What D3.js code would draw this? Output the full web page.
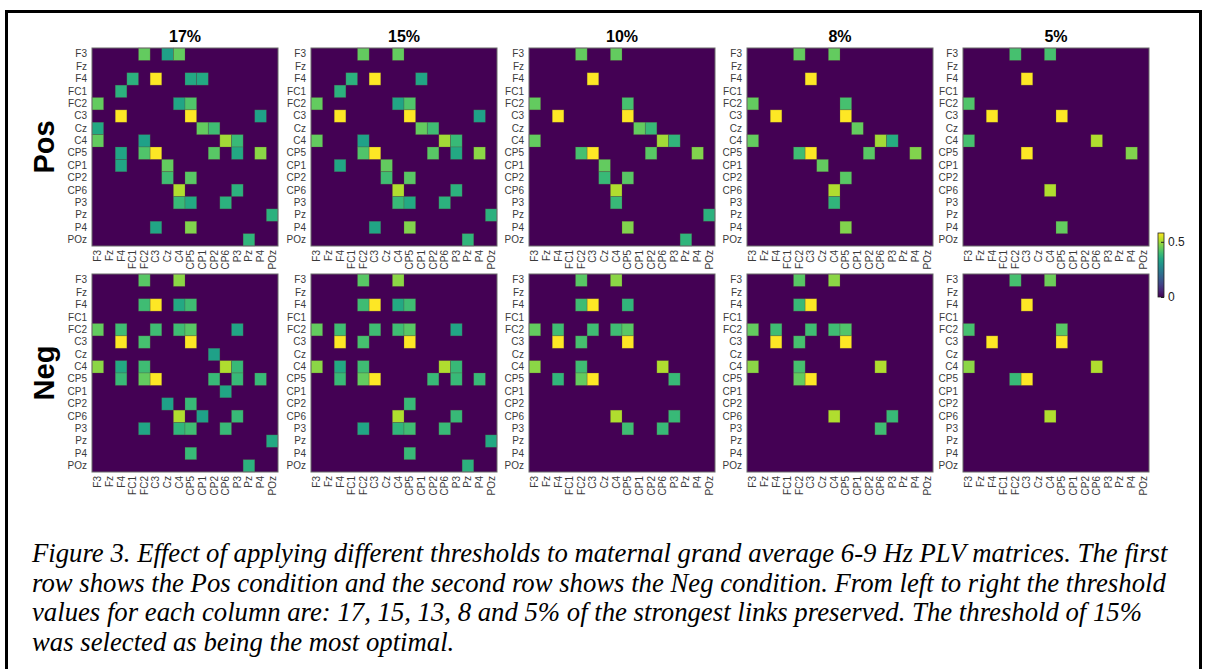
<!DOCTYPE html>
<html>
<head>
<meta charset="utf-8">
<script src="https://cdn.jsdelivr.net/npm/d3@7"></script>
<style>
  body { margin: 0; background: #fff; }
  svg { display: block; }
</style>
</head>
<body>
<div id="fig"></div>
<script>
// channel order used on both axes of every PLV matrix
const channels = ["F3","Fz","F4","FC1","FC2","C3","Cz","C4","CP5","CP1","CP2","CP6","P3","Pz","P4","POz"];
const thresholds = ["17%","15%","10%","8%","5%"];
const conditions = ["Pos","Neg"];

// non-zero links [row, column, PLV]
const pos17 = [
  ["F3","FC2",0.44],["F3","Cz",0.33],["F3","C4",0.44],
  ["F4","FC1",0.37],["F4","C3",0.58],["F4","CP5",0.35],["F4","CP1",0.35],
  ["FC1","F4",0.37],
  ["FC2","F3",0.44],["FC2","C4",0.34],["FC2","CP5",0.42],
  ["C3","F4",0.58],["C3","CP5",0.58],["C3","P4",0.33],
  ["Cz","F3",0.35],["Cz","CP1",0.44],["Cz","CP2",0.40],
  ["C4","F3",0.44],["C4","FC2",0.33],["C4","CP6",0.50],["C4","P3",0.39],
  ["CP5","F4",0.34],["CP5","FC2",0.42],["CP5","C3",0.58],["CP5","CP2",0.43],["CP5","P3",0.35],["CP5","P4",0.48],
  ["CP1","F4",0.34],["CP1","Cz",0.44],
  ["CP2","Cz",0.40],["CP2","CP5",0.43],
  ["CP6","C4",0.51],["CP6","P3",0.37],
  ["P3","C4",0.39],["P3","CP5",0.35],["P3","CP6",0.37],
  ["Pz","POz",0.37],
  ["P4","C3",0.34],["P4","CP5",0.47],
  ["POz","Pz",0.38]
];
const pos15 = [
  ["F3","FC2",0.44],["F3","C4",0.44],
  ["F4","FC1",0.37],["F4","C3",0.58],["F4","CP1",0.34],
  ["FC1","F4",0.37],
  ["FC2","F3",0.44],["FC2","C4",0.34],["FC2","CP5",0.42],
  ["C3","F4",0.58],["C3","CP5",0.58],["C3","P4",0.33],
  ["Cz","CP1",0.44],["Cz","CP2",0.40],
  ["C4","F3",0.44],["C4","FC2",0.33],["C4","CP6",0.50],["C4","P3",0.39],
  ["CP5","FC2",0.42],["CP5","C3",0.58],["CP5","CP2",0.43],["CP5","P3",0.35],["CP5","P4",0.48],
  ["CP1","F4",0.34],["CP1","Cz",0.44],
  ["CP2","Cz",0.40],["CP2","CP5",0.43],
  ["CP6","C4",0.51],["CP6","P3",0.37],
  ["P3","C4",0.39],["P3","CP5",0.35],["P3","CP6",0.37],
  ["Pz","POz",0.37],
  ["P4","C3",0.34],["P4","CP5",0.47],
  ["POz","Pz",0.38]
];
const pos10 = [
  ["F3","FC2",0.44],["F3","C4",0.44],
  ["F4","C3",0.58],
  ["FC2","F3",0.44],["FC2","CP5",0.41],
  ["C3","F4",0.58],["C3","CP5",0.58],
  ["Cz","CP1",0.44],["Cz","CP2",0.39],
  ["C4","F3",0.44],["C4","CP6",0.50],["C4","P3",0.38],
  ["CP5","FC2",0.41],["CP5","C3",0.58],["CP5","CP2",0.43],["CP5","P4",0.47],
  ["CP1","Cz",0.44],
  ["CP2","Cz",0.39],["CP2","CP5",0.43],
  ["CP6","C4",0.51],
  ["P3","C4",0.39],
  ["Pz","POz",0.37],
  ["P4","CP5",0.47],
  ["POz","Pz",0.38]
];
const pos8 = [
  ["F3","FC2",0.44],["F3","C4",0.44],
  ["F4","C3",0.58],
  ["FC2","F3",0.44],["FC2","CP5",0.41],
  ["C3","F4",0.58],["C3","CP5",0.58],
  ["Cz","CP1",0.44],
  ["C4","F3",0.44],["C4","CP6",0.50],["C4","P3",0.36],
  ["CP5","FC2",0.40],["CP5","C3",0.58],["CP5","CP2",0.43],["CP5","P4",0.47],
  ["CP1","Cz",0.44],
  ["CP2","CP5",0.43],
  ["CP6","C4",0.51],
  ["P3","C4",0.38],
  ["P4","CP5",0.47]
];
const pos5 = [
  ["F3","FC2",0.41],["F3","C4",0.41],
  ["F4","C3",0.58],
  ["FC2","F3",0.42],
  ["C3","F4",0.58],["C3","CP5",0.58],
  ["C4","F3",0.41],["C4","CP6",0.51],
  ["CP5","C3",0.58],["CP5","P4",0.47],
  ["CP6","C4",0.51],
  ["P4","CP5",0.44]
];
const neg17 = [
  ["F3","FC2",0.43],["F3","C4",0.48],
  ["F4","FC2",0.40],["F4","C3",0.58],["F4","C4",0.35],["F4","CP5",0.40],
  ["FC2","F3",0.44],["FC2","F4",0.40],["FC2","C3",0.40],["FC2","C4",0.40],["FC2","CP5",0.43],["FC2","P3",0.34],
  ["C3","F4",0.58],["C3","FC2",0.41],["C3","CP5",0.58],
  ["Cz","CP2",0.33],
  ["C4","F3",0.48],["C4","F4",0.35],["C4","FC2",0.40],["C4","CP6",0.51],["C4","P3",0.39],
  ["CP5","F4",0.39],["CP5","FC2",0.44],["CP5","C3",0.58],["CP5","CP2",0.39],["CP5","P3",0.39],["CP5","P4",0.39],
  ["CP1","CP6",0.34],
  ["CP2","Cz",0.33],["CP2","CP5",0.39],
  ["CP6","C4",0.51],["CP6","CP1",0.33],["CP6","P3",0.39],
  ["P3","FC2",0.34],["P3","C4",0.38],["P3","CP5",0.40],["P3","CP6",0.39],
  ["Pz","POz",0.35],
  ["P4","CP5",0.39],
  ["POz","Pz",0.37]
];
const neg15 = [
  ["F3","FC2",0.43],["F3","C4",0.48],
  ["F4","FC2",0.40],["F4","C3",0.58],["F4","C4",0.35],["F4","CP5",0.40],
  ["FC2","F3",0.44],["FC2","F4",0.40],["FC2","C3",0.40],["FC2","C4",0.40],["FC2","CP5",0.43],["FC2","P3",0.34],
  ["C3","F4",0.58],["C3","FC2",0.41],["C3","CP5",0.58],
  ["C4","F3",0.48],["C4","F4",0.35],["C4","FC2",0.40],["C4","CP6",0.51],["C4","P3",0.39],
  ["CP5","F4",0.39],["CP5","FC2",0.44],["CP5","C3",0.58],["CP5","CP2",0.39],["CP5","P3",0.39],["CP5","P4",0.39],
  ["CP2","CP5",0.39],
  ["CP6","C4",0.51],["CP6","P3",0.39],
  ["P3","FC2",0.34],["P3","C4",0.38],["P3","CP5",0.40],["P3","CP6",0.39],
  ["Pz","POz",0.35],
  ["P4","CP5",0.39],
  ["POz","Pz",0.37]
];
const neg10 = [
  ["F3","FC2",0.43],["F3","C4",0.48],
  ["F4","FC2",0.40],["F4","C3",0.58],["F4","CP5",0.38],
  ["FC2","F3",0.44],["FC2","F4",0.40],["FC2","C3",0.40],["FC2","C4",0.40],["FC2","CP5",0.43],
  ["C3","F4",0.58],["C3","FC2",0.41],["C3","CP5",0.58],
  ["C4","F3",0.48],["C4","FC2",0.40],["C4","CP6",0.51],
  ["CP5","F4",0.38],["CP5","FC2",0.44],["CP5","C3",0.58],["CP5","P3",0.39],
  ["CP6","C4",0.51],["CP6","P3",0.39],
  ["P3","CP5",0.40],["P3","CP6",0.39]
];
const neg8 = [
  ["F3","FC2",0.43],["F3","C4",0.48],
  ["F4","FC2",0.39],["F4","C3",0.58],
  ["FC2","F3",0.44],["FC2","F4",0.40],["FC2","C3",0.40],["FC2","C4",0.40],["FC2","CP5",0.42],
  ["C3","F4",0.58],["C3","FC2",0.41],["C3","CP5",0.58],
  ["C4","F3",0.48],["C4","FC2",0.41],["C4","CP6",0.51],
  ["CP5","FC2",0.44],["CP5","C3",0.58],
  ["CP6","C4",0.51],["CP6","P3",0.39],
  ["P3","CP6",0.40]
];
const neg5 = [
  ["F3","FC2",0.41],["F3","C4",0.45],
  ["F4","C3",0.58],
  ["FC2","F3",0.41],["FC2","CP5",0.43],
  ["C3","F4",0.58],["C3","CP5",0.58],
  ["C4","F3",0.48],["C4","CP6",0.51],
  ["CP5","FC2",0.39],["CP5","C3",0.58],
  ["CP6","C4",0.51]
];
const matrices = [[pos17,pos15,pos10,pos8,pos5],[neg17,neg15,neg10,neg8,neg5]];

const colorTicks = [0, 0.5];
const captionLines = [
  "Figure 3. Effect of applying different thresholds to maternal grand average 6-9 Hz PLV matrices. The first",
  "row shows the Pos condition and the second row shows the Neg condition. From left to right the threshold",
  "values for each column are: 17, 15, 13, 8 and 5% of the strongest links preserved. The threshold of 15%",
  "was selected as being the most optimal."
];

// layout
const W = 1206, H = 669;
const panelLeft = [92, 311, 529, 747, 963];
const panelTop = [48, 274];
const panelW = 186, panelH = 198;

const svg = d3.select("#fig").append("svg")
  .attr("width", W).attr("height", H);

const color = d3.scaleSequential(d3.interpolateViridis).domain([0, 0.58]);

const x = d3.scaleBand().domain(channels).range([0, panelW]);
const y = d3.scaleBand().domain(channels).range([0, panelH]);

// outer frame of the figure
svg.append("path")
  .attr("d", `M6.5,${H} V11.5 H1200.5 V${H}`)
  .attr("fill", "none").attr("stroke", "#000").attr("stroke-width", 3);

function drawPanel(g, links) {
  g.append("rect")
    .attr("width", panelW).attr("height", panelH)
    .attr("fill", color(0));

  g.selectAll("rect.cell")
    .data(links)
    .join("rect")
      .attr("class", "cell")
      .attr("x", d => x(d[1]))
      .attr("y", d => y(d[0]))
      .attr("width", x.bandwidth())
      .attr("height", y.bandwidth())
      .attr("fill", d => color(d[2]))
      .attr("stroke", "rgba(90,80,60,0.45)")
      .attr("stroke-width", 0.6);

  const ay = g.append("g")
    .call(d3.axisLeft(y).tickSize(0).tickPadding(5));
  ay.select(".domain").remove();
  ay.selectAll("text")
    .attr("font-family", "Liberation Sans, Arial, sans-serif")
    .attr("font-size", 10).attr("fill", "#3a3a3a");

  const ax = g.append("g")
    .attr("transform", `translate(0,${panelH})`)
    .call(d3.axisBottom(x).tickSize(0).tickPadding(4));
  ax.select(".domain").remove();
  ax.selectAll("text")
    .attr("font-family", "Liberation Sans, Arial, sans-serif")
    .attr("font-size", 10).attr("fill", "#3a3a3a")
    .attr("transform", "rotate(-90)")
    .attr("x", -4).attr("y", 0).attr("dy", "0.35em")
    .style("text-anchor", "end");

  g.append("rect")
    .attr("width", panelW).attr("height", panelH)
    .attr("fill", "none").attr("stroke", "#6a6a6a").attr("stroke-width", 1);
}

conditions.forEach((cond, r) => {
  thresholds.forEach((th, c) => {
    const g = svg.append("g")
      .attr("transform", `translate(${panelLeft[c]},${panelTop[r]})`);
    drawPanel(g, matrices[r][c]);
  });
  svg.append("text")
    .attr("transform", `translate(54,${panelTop[r] + panelH / 2}) rotate(-90)`)
    .attr("text-anchor", "middle")
    .attr("font-family", "Liberation Sans, Arial, sans-serif")
    .attr("font-weight", "bold").attr("font-size", 29)
    .text(cond);
});

// column titles
svg.selectAll("text.title")
  .data(thresholds)
  .join("text")
    .attr("class", "title")
    .attr("x", (d, i) => panelLeft[i] + panelW / 2)
    .attr("y", 42)
    .attr("text-anchor", "middle")
    .attr("font-family", "Liberation Sans, Arial, sans-serif")
    .attr("font-weight", "bold").attr("font-size", 16)
    .text(d => d);

// colorbar
const cbX = 1158, cbW = 6, cbTop = 233, cbBottom = 297;
const cbScale = d3.scaleLinear().domain([0, 0.58]).range([cbBottom, cbTop]);
const grad = svg.append("defs").append("linearGradient")
  .attr("id", "viridis").attr("x1", 0).attr("x2", 0).attr("y1", 1).attr("y2", 0);
d3.range(0, 1.0001, 0.1).forEach(t => {
  grad.append("stop").attr("offset", t).attr("stop-color", d3.interpolateViridis(t));
});
svg.append("rect")
  .attr("x", cbX).attr("y", cbTop).attr("width", cbW).attr("height", cbBottom - cbTop)
  .attr("fill", "url(#viridis)").attr("stroke", "#222").attr("stroke-width", 0.8);
const cbAxis = svg.append("g")
  .attr("transform", `translate(${cbX + cbW},0)`)
  .call(d3.axisRight(cbScale).tickValues(colorTicks).tickFormat(d3.format("")).tickSize(-3).tickPadding(4));
cbAxis.select(".domain").remove();
cbAxis.selectAll("line").attr("stroke", "#222");
cbAxis.selectAll("text")
  .attr("font-family", "Liberation Sans, Arial, sans-serif")
  .attr("font-size", 12).attr("fill", "#222");

// caption
const cap = svg.append("g")
  .attr("font-family", "Liberation Serif, Times New Roman, serif")
  .attr("font-style", "italic").attr("fill", "#000");
const capText = cap.selectAll("text")
  .data(captionLines)
  .join("text")
    .attr("x", 32)
    .attr("y", (d, i) => 562 + i * 29.5)
    .attr("font-size", 22)
    .text(d => d);
// fit the first line to the width seen in the figure
const firstW = capText.node().getComputedTextLength();
capText.attr("font-size", 22 * 1136 / firstW);
</script>
</body>
</html>
